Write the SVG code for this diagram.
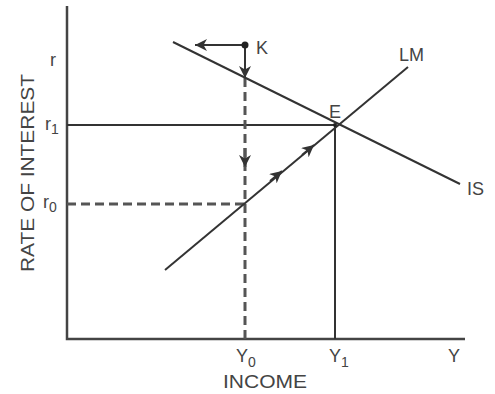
<svg xmlns="http://www.w3.org/2000/svg" width="495" height="394" viewBox="0 0 495 394">
<style>
.ln{stroke:#333;stroke-width:2;fill:none}
.ax{stroke:#444;stroke-width:2.5;fill:none}
.ds{stroke:#555;stroke-width:3;fill:none;stroke-dasharray:9 5}
.t{font-family:"Liberation Sans",Arial,sans-serif;fill:#444;font-size:18px}
.s{font-size:14px}
</style>
<defs>
<marker id="ah" markerUnits="userSpaceOnUse" markerWidth="14" markerHeight="12" refX="12" refY="6" orient="auto">
<path d="M0,0 L12,6 L0,12 L3.5,6 z" fill="#333"/>
</marker>
</defs>
<rect width="495" height="394" fill="#fff"/>
<g id="axes">
<path class="ax" d="M67,6 V339 H465"/>
</g>
<g id="connectors">
<path class="ln" d="M67,125 H335 V339"/>
<path class="ds" d="M67,204 H245"/>
<path class="ds" d="M245,78 V339"/>
<path class="ds" d="M245,148 V167" marker-end="url(#ah)" style="stroke-dasharray:none"/>
<path class="ln" d="M173,42 L460,184"/>
<path class="ln" d="M165,270 L408,67"/>
<path class="ln" d="M270,181 L282,171" marker-end="url(#ah)"/>
<path class="ln" d="M302,155 L314,145" marker-end="url(#ah)"/>
<path class="ln" d="M245,45 H195" marker-end="url(#ah)"/>
<path class="ln" d="M245,45 V78" marker-end="url(#ah)"/>
</g>
<g id="K">
<circle cx="245" cy="45" r="3.5" fill="#222"/>
<text class="t" x="256" y="54">K</text>
</g>
<g id="E">
<circle cx="335" cy="125" r="2" fill="#222"/>
<text class="t" x="329" y="118">E</text>
</g>
<g id="LM"><text class="t" x="399" y="61">LM</text></g>
<g id="IS"><text class="t" x="467" y="195">IS</text></g>
<g id="ylabels">
<text class="t" x="50" y="66">r</text>
<text class="t" x="45" y="130">r<tspan class="s" dy="4">1</tspan></text>
<text class="t" x="43" y="208">r<tspan class="s" dy="4">0</tspan></text>
<text class="t" transform="translate(34,173) rotate(-90)" text-anchor="middle" textLength="198" lengthAdjust="spacingAndGlyphs">RATE OF INTEREST</text>
</g>
<g id="xlabels">
<text class="t" x="236" y="362">Y<tspan class="s" dy="5">0</tspan></text>
<text class="t" x="329" y="362">Y<tspan class="s" dy="5">1</tspan></text>
<text class="t" x="448" y="362">Y</text>
<text class="t" x="265" y="388" text-anchor="middle" textLength="84" lengthAdjust="spacingAndGlyphs">INCOME</text>
</g>
</svg>
